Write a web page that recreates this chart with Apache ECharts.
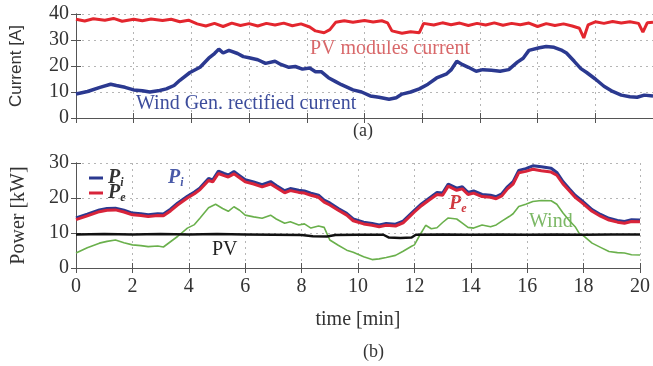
<!DOCTYPE html>
<html>
<head>
<meta charset="utf-8">
<script src="https://cdn.jsdelivr.net/npm/echarts@6/dist/echarts.min.js"></script>
<style>
  html, body { margin: 0; padding: 0; background: #fff; }
  #chart { width: 653px; height: 366px; }
</style>
</head>
<body>
<div id="chart"></div>
<script>
// time ticks (min)
const timeTicks = [0, 2, 4, 6, 8, 10, 12, 14, 16, 18, 20];

// (a) currents [A]: [time, value]
const pvCurrent = [[0,38],[0.3,37.3],[0.6,38.2],[1.0,37.6],[1.3,38.3],[1.6,37.2],[2.0,38],[2.3,37.4],[2.6,38.1],[3.0,37.5],[3.3,38],[3.6,37],[3.9,37.6],[4.2,36.2],[4.5,35.4],[4.8,36.4],[5.1,35.2],[5.4,36.5],[5.7,35.6],[6.0,36.3],[6.3,35.4],[6.6,36.4],[6.9,35.8],[7.2,36.5],[7.5,35.5],[7.8,36.2],[8.1,35],[8.3,33.5],[8.6,32.8],[8.8,34],[9.0,36.8],[9.3,37.4],[9.6,36.8],[10.0,37.5],[10.3,36.9],[10.6,37.4],[10.8,36.6],[10.95,33.5],[11.3,32.6],[11.6,33.2],[11.9,32.8],[12.05,36.4],[12.4,35.8],[12.7,36.6],[13.0,35.9],[13.3,36.5],[13.6,35.6],[13.9,36.4],[14.2,35.8],[14.5,36.6],[14.8,35.7],[15.1,36.4],[15.4,35.9],[15.7,36.5],[16.0,35.2],[16.3,36.3],[16.6,35.6],[16.9,36.2],[17.2,35.4],[17.45,34.5],[17.6,30.8],[17.75,35.8],[18.0,37],[18.3,36.4],[18.6,37.1],[18.9,36.5],[19.2,37],[19.5,36.4],[19.65,33],[19.8,36.6],[20,36.8]];
const windCurrent = [[0,9.2],[0.4,10.2],[0.83,11.8],[1.2,13],[1.4,12.5],[1.7,11.8],[2.0,10.8],[2.3,10.5],[2.56,10],[2.9,10.6],[3.13,11.2],[3.4,12.5],[3.6,14.5],[3.95,17.5],[4.3,19.5],[4.6,23],[4.8,24.8],[4.95,26.5],[5.1,25],[5.3,26],[5.6,24.8],[5.8,23.6],[6.0,23.2],[6.3,22.4],[6.57,21],[6.9,21.8],[7.1,20.6],[7.38,19.5],[7.6,19.8],[7.85,18.8],[8.1,19.2],[8.3,17.8],[8.5,17.8],[8.75,15.5],[9.0,14],[9.2,12.8],[9.6,10.8],[9.9,10],[10.2,8.5],[10.5,8],[10.85,7.2],[11.1,7.8],[11.3,9.2],[11.6,10],[11.9,11.2],[12.2,13],[12.5,15.4],[12.85,17],[13.0,18.5],[13.2,21.8],[13.4,20.5],[13.6,19.5],[13.87,18],[14.1,18.6],[14.4,18.4],[14.7,18],[15.0,18.6],[15.3,21.5],[15.5,23],[15.7,26],[16.06,27],[16.3,27.5],[16.57,27.2],[16.85,26],[17.0,25],[17.27,21.8],[17.5,19],[17.7,17.5],[18.0,15],[18.3,12.2],[18.6,10.2],[18.9,8.8],[19.2,8.2],[19.45,8],[19.7,8.8],[20,8.5]];

// (b) powers [kW]: [time, value]
const pOut = [[0,13.8],[0.4,14.9],[0.83,16.1],[1.1,16.5],[1.4,16.6],[1.7,16],[2.0,15.2],[2.3,15],[2.56,14.7],[2.9,15],[3.1,14.9],[3.35,16.3],[3.6,18],[3.95,20],[4.2,21.2],[4.4,22.4],[4.7,25],[4.85,24.6],[5.05,27],[5.25,26.4],[5.4,26],[5.6,26.9],[5.8,25.8],[6.0,24.6],[6.3,24],[6.6,23.2],[6.9,24],[7.1,23],[7.4,21.5],[7.6,22.1],[7.9,21.6],[8.1,21.4],[8.33,20.8],[8.6,20.2],[8.8,18.8],[9.0,18],[9.3,16.5],[9.6,15.1],[9.83,13.5],[10.2,12.6],[10.5,12.2],[10.75,11.8],[11.0,12.2],[11.33,12],[11.6,12.9],[12.0,16],[12.25,17.8],[12.5,19.3],[12.8,21],[13.0,20.8],[13.2,23.4],[13.5,22.2],[13.7,22.6],[13.9,21],[14.1,21.4],[14.4,20.4],[14.7,20.2],[14.9,19.8],[15.1,20.6],[15.3,22.6],[15.5,24],[15.7,27.2],[15.95,27.6],[16.2,28.2],[16.5,27.8],[16.85,27.4],[17.05,26.5],[17.27,24],[17.5,22],[17.7,20.2],[17.95,18.6],[18.3,16.2],[18.6,14.8],[18.9,13.7],[19.2,13.1],[19.45,12.8],[19.7,13.3],[20,13.2]];
const pIn = [[0,14.3],[0.4,15.4],[0.83,16.6],[1.1,17],[1.4,17.1],[1.7,16.5],[2.0,15.7],[2.3,15.5],[2.56,15.2],[2.9,15.5],[3.1,15.4],[3.35,16.8],[3.6,18.5],[3.95,20.5],[4.2,21.7],[4.4,22.9],[4.7,25.6],[4.85,25.2],[5.05,27.7],[5.25,27],[5.4,26.6],[5.6,27.6],[5.8,26.4],[6.0,25.2],[6.3,24.6],[6.6,23.8],[6.9,24.7],[7.1,23.6],[7.4,22.1],[7.6,22.7],[7.9,22.2],[8.1,22],[8.33,21.4],[8.6,20.8],[8.8,19.4],[9.0,18.6],[9.3,17],[9.6,15.6],[9.83,14],[10.2,13.1],[10.5,12.7],[10.75,12.3],[11.0,12.7],[11.33,12.5],[11.6,13.4],[12.0,16.5],[12.25,18.3],[12.5,19.8],[12.8,21.6],[13.0,21.4],[13.2,24],[13.5,22.8],[13.7,23.2],[13.9,21.6],[14.1,22],[14.4,21],[14.7,20.8],[14.9,20.4],[15.1,21.2],[15.3,23.2],[15.5,24.7],[15.7,27.9],[15.95,28.4],[16.2,29.2],[16.5,28.9],[16.85,28.5],[17.05,27.3],[17.27,24.7],[17.5,22.6],[17.7,20.8],[17.95,19.2],[18.3,16.7],[18.6,15.3],[18.9,14.2],[19.2,13.6],[19.45,13.3],[19.7,13.8],[20,13.7]];
const windPower = [[0,4.3],[0.4,5.8],[0.83,7.1],[1.1,7.6],[1.4,8],[1.7,7.2],[2.0,6.6],[2.3,6.4],[2.56,6.1],[2.9,6.3],[3.1,6],[3.35,7.5],[3.6,9],[3.95,11.4],[4.2,12.4],[4.4,14.3],[4.7,17.2],[4.95,18.2],[5.2,17],[5.4,16.2],[5.6,17.5],[5.8,16.5],[6.0,15.1],[6.3,14.6],[6.6,14.2],[6.9,15.1],[7.1,14],[7.4,12.8],[7.6,13.2],[7.9,12.3],[8.1,12.6],[8.33,11.4],[8.6,12],[8.8,11.6],[9.0,8],[9.3,6.5],[9.6,5.1],[9.83,4.5],[10.2,3.2],[10.5,2.4],[10.75,2.6],[11.0,3],[11.33,3.6],[11.6,4.8],[11.9,6.2],[12.0,6.6],[12.2,9.5],[12.4,12.2],[12.6,11.2],[12.8,11.5],[13.0,13],[13.2,14.3],[13.5,14],[13.7,12.8],[13.9,11.6],[14.1,11.4],[14.4,12.3],[14.7,11.8],[14.9,12.3],[15.1,13.4],[15.36,14.7],[15.5,15.5],[15.7,17.6],[15.95,18.2],[16.2,19],[16.5,19.3],[16.85,19.2],[17.05,18.2],[17.27,15.7],[17.5,13.5],[17.7,11.8],[17.85,9.8],[18.0,9.2],[18.3,7.1],[18.6,5.9],[18.9,4.7],[19.2,4.4],[19.45,4.3],[19.7,3.8],[20,3.7]];
const pvPower = [[0,9.6],[1,9.7],[2,9.6],[3,9.7],[4,9.6],[5,9.7],[6,9.6],[7,9.5],[8,9.4],[8.4,9.1],[8.9,9.0],[9.2,9.4],[10,9.5],[10.9,9.5],[11.1,8.7],[11.5,8.6],[11.9,8.7],[12.05,9.5],[13,9.6],[14,9.5],[15,9.6],[16,9.5],[17,9.6],[18,9.5],[19,9.6],[20,9.6]];

const serif = 'Liberation Serif';
const frameColor = '#555';
const dotted = { show: true, lineStyle: { color: '#b5b5b5', type: [2, 4], width: 1 } };

const chart = echarts.init(document.getElementById('chart'));

const xBase = (grid, pos, labels) => ({
    type: 'value',
    gridIndex: grid,
    position: pos,
    min: 0,
    max: 20,
    interval: 2,
    axisLine: { show: true, lineStyle: { color: frameColor } },
    axisTick: { show: true, inside: true, length: 5, lineStyle: { color: frameColor } },
    axisLabel: {
        show: labels,
        fontFamily: serif,
        fontSize: 20,
        color: '#333',
        margin: 9,
    },
    splitLine: pos === 'bottom' ? dotted : { show: false },
});

const yBase = (grid, pos, max, labels, name) => ({
    type: 'value',
    gridIndex: grid,
    position: pos,
    min: 0,
    max: max,
    interval: 10,
    name: name,
    nameLocation: 'middle',
    nameGap: 48,
    nameTextStyle: { fontFamily: serif, fontSize: 20, color: '#333' },
    axisLine: { show: true, lineStyle: { color: frameColor } },
    axisTick: { show: true, inside: true, length: 5, lineStyle: { color: frameColor } },
    axisLabel: {
        show: labels,
        fontFamily: serif,
        fontSize: 20,
        color: '#333',
        margin: 7,
    },
    splitLine: pos === 'left' ? dotted : { show: false },
});

const txt = (left, top, text, color, extra) => ({
    type: 'text',
    left: left,
    top: top,
    style: Object.assign({ text: text, fill: color, fontFamily: serif, fontSize: 20 }, extra || {}),
});

const subRich = (color) => ({
    p: { fontFamily: serif, fontStyle: 'italic', fontWeight: 'bold', fontSize: 20, fill: color, color: color },
    s: { fontFamily: serif, fontStyle: 'italic', fontWeight: 'bold', fontSize: 12, fill: color, color: color, padding: [10, 0, 0, 0] },
});

const option = {
    animation: false,
    grid: [
        { left: 76, top: 14, width: 578, height: 104 },
        { left: 76, top: 163, width: 578, height: 105 },
    ],
    xAxis: [
        xBase(0, 'bottom', false),
        xBase(0, 'top', false),
        Object.assign(xBase(1, 'bottom', true), {
            name: 'time [min]',
            nameLocation: 'middle',
            nameGap: 42,
            nameTextStyle: { fontFamily: serif, fontSize: 20, color: '#333' },
        }),
        xBase(1, 'top', false),
    ],
    yAxis: [
        Object.assign(yBase(0, 'left', 40, true, 'Current [A]'), {
            nameTextStyle: { fontFamily: 'Liberation Sans', fontSize: 17, color: '#333' },
            nameGap: 51,
        }),
        yBase(0, 'right', 40, false),
        Object.assign(yBase(1, 'left', 30, true, 'Power [kW]'), { nameGap: 47 }),
        yBase(1, 'right', 30, false),
    ],
    legend: {
        data: ['Pi', 'Pe'],
        orient: 'vertical',
        left: 84,
        top: 163,
        itemGap: -6,
        itemWidth: 14,
        itemHeight: 3,
        icon: 'rect',
        formatter: name => '{p|P}{s|' + name.slice(1) + '}',
        textStyle: { rich: subRich('#333') },
    },
    graphic: [
        txt(310, 39, 'PV modules current', '#d8686a'),
        txt(136, 94, 'Wind Gen. rectified current', '#3d4d9c'),
        txt(353, 122, '(a)', '#333', { fontSize: 18 }),
        txt(168, 168, '{p|P}{s|i}', '#4a5aa8', { rich: subRich('#4a5aa8') }),
        txt(449, 194, '{p|P}{s|e}', '#d03a40', { rich: subRich('#d03a40') }),
        txt(529, 212, 'Wind', '#7cb866'),
        txt(212, 240, 'PV', '#222'),
        txt(363, 343, '(b)', '#333', { fontSize: 18 }),
    ],
    series: [
        {
            name: 'PV current', type: 'line', xAxisIndex: 0, yAxisIndex: 0,
            data: pvCurrent, symbol: 'none',
            lineStyle: { color: '#e3262e', width: 3 },
        },
        {
            name: 'Wind current', type: 'line', xAxisIndex: 0, yAxisIndex: 0,
            data: windCurrent, symbol: 'none',
            lineStyle: { color: '#2b3990', width: 3.5 },
        },
        {
            name: 'Wind', type: 'line', xAxisIndex: 2, yAxisIndex: 2,
            data: windPower, symbol: 'none',
            lineStyle: { color: '#6ab04c', width: 1.6 },
        },
        {
            name: 'PV', type: 'line', xAxisIndex: 2, yAxisIndex: 2,
            data: pvPower, symbol: 'none',
            lineStyle: { color: '#111', width: 2.5 },
        },
        {
            name: 'Pi', type: 'line', xAxisIndex: 2, yAxisIndex: 2,
            data: pIn, symbol: 'none', color: '#2b3990',
            lineStyle: { color: '#2b3990', width: 3 },
        },
        {
            name: 'Pe', type: 'line', xAxisIndex: 2, yAxisIndex: 2,
            data: pOut, symbol: 'none', color: '#d8243a',
            lineStyle: { color: '#d8243a', width: 3 },
        },
    ],
};

chart.setOption(option);
</script>
</body>
</html>
